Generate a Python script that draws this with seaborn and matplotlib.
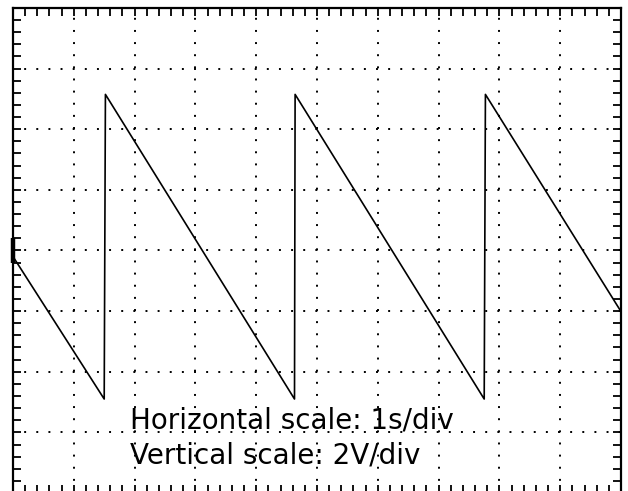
import matplotlib
matplotlib.use("Agg")
import matplotlib.pyplot as plt
import seaborn as sns
import pandas as pd

# Sawtooth trace: vertices of the captured waveform (time in s, level in V)
time_s = [0.00, 1.50, 1.52, 4.63, 4.64, 7.75, 7.77, 9.98]
volts = [-0.20, -4.90, 5.15, -4.90, 5.15, -4.90, 5.15, -1.95]

h_label = "Horizontal scale: 1s/div"
v_label = "Vertical scale: 2V/div"

# screen: 10 divisions of 1 s, 8 divisions of 2 V
x_divs = list(range(0, 11))
y_divs = list(range(-8, 9, 2))
marker_level = 0.0

sns.set_style("white")
plt.rcParams["font.family"] = ["DejaVu Sans"]

fig = plt.figure(figsize=(6.28, 4.91), dpi=100)
ax = fig.add_axes([13 / 628, -2 / 491, 608 / 628, 485 / 491])

df = pd.DataFrame({"t": time_s, "v": volts})
sns.lineplot(data=df, x="t", y="v", ax=ax, color="black", linewidth=1.2,
             sort=False, estimator=None, zorder=3)

ax.set_xlim(x_divs[0], x_divs[-1])
ax.set_ylim(y_divs[0], y_divs[-1])
ax.set_xticks(x_divs)
ax.set_yticks(y_divs)
ax.set_xticks([x_divs[0] + 0.2 * i for i in range(51)], minor=True)
ax.set_yticks([y_divs[0] + 0.4 * i for i in range(41)], minor=True)
ax.tick_params(which="both", direction="in", length=5.5, width=1.3,
               top=True, right=True, bottom=True, left=True,
               labelbottom=False, labelleft=False, color="black")
ax.set_xlabel("")
ax.set_ylabel("")

for sp in ax.spines.values():
    sp.set_color("black")
    sp.set_linewidth(1.6)

# dotted graticule, one dot per minor subdivision
ax.grid(True, which="major", color="black", linewidth=1.4,
        linestyle=(0.5, (1.0, 5.24)))
ax.set_axisbelow(True)

# channel offset marker on the left edge
ax.plot([0, 0], [marker_level - 0.42, marker_level + 0.42], color="black",
        linewidth=3.2, solid_capstyle="butt", clip_on=False, zorder=4)

ax.text(1.93, -5.86, h_label, fontsize=20, color="black", va="baseline",
        ha="left", zorder=5)
ax.text(1.93, -7.02, v_label, fontsize=20, color="black", va="baseline",
        ha="left", zorder=5)

fig.savefig("out.png", dpi=100)
